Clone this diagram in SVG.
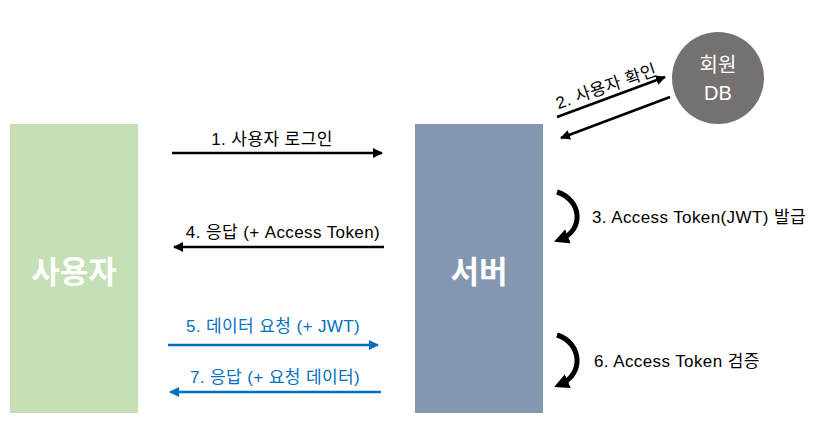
<svg xmlns="http://www.w3.org/2000/svg" width="818" height="425" viewBox="0 0 818 425">
<defs>
<marker id="ah" viewBox="0 0 10 10" refX="9" refY="5" markerWidth="4" markerHeight="4" orient="auto"><path d="M0,0 L10,5 L0,10 z" fill="#000"/></marker>
<marker id="ahb" viewBox="0 0 10 10" refX="9" refY="5" markerWidth="4" markerHeight="4" orient="auto"><path d="M0,0 L10,5 L0,10 z" fill="#0070c0"/></marker>
<marker id="ahc" viewBox="0 0 10 10" refX="5" refY="5" markerWidth="3" markerHeight="3" orient="auto"><path d="M0,0 L10,5 L0,10 z" fill="#000"/></marker>
</defs>
<style>
text{font-family:"Liberation Sans","Noto Sans CJK KR",sans-serif;}
.lbl{font-size:17px;letter-spacing:0.4px;fill:#000;}
.blbl{font-size:17px;letter-spacing:0.4px;fill:#0070c0;}
.big{font-size:31px;font-weight:bold;fill:#fff;}
.db{font-size:20px;fill:#fff;}
.k{stroke:#000;stroke-width:2.5;fill:none;marker-end:url(#ah);}
.b{stroke:#0070c0;stroke-width:2.5;fill:none;marker-end:url(#ahb);}
.c{stroke:#000;stroke-width:5;fill:none;marker-end:url(#ahc);}
</style>
<rect width="818" height="425" fill="#fff"/>
<g id="user"><rect x="10" y="124" width="128" height="289" fill="#c5e0b4"/><text class="big" x="74" y="283" text-anchor="middle">사용자</text></g>
<g id="server"><rect x="415" y="124" width="128" height="289" fill="#8497b0"/><text class="big" x="479" y="283" text-anchor="middle">서버</text></g>
<g id="db"><circle cx="718" cy="78" r="46" fill="#767171"/><text class="db" x="718" y="72" text-anchor="middle">회원</text><text class="db" x="718" y="100" text-anchor="middle">DB</text></g>
<g id="connectors">
<path class="k" d="M172,153 L382,153"/>
<text class="lbl" x="272" y="145" text-anchor="middle">1. 사용자 로그인</text>
<path class="k" d="M557,117 L665,77"/>
<path class="k" d="M670,97 L561,138"/>
<text class="lbl" x="608" y="92" text-anchor="middle" transform="rotate(-19 608 92)">2. 사용자 확인</text>
<path class="c" d="M557,192 C582,200 584,230 561,239"/>
<text class="lbl" x="592" y="223">3. Access Token(JWT) 발급</text>
<path class="k" d="M384,247 L174,247"/>
<text class="lbl" x="283" y="238" text-anchor="middle">4. 응답 (+ Access Token)</text>
<path class="b" d="M168,345 L378,345"/>
<text class="blbl" x="273" y="332" text-anchor="middle">5. 데이터 요청 (+ JWT)</text>
<path class="c" d="M557,335 C582,343 584,374 561,384"/>
<text class="lbl" x="594" y="367">6. Access Token 검증</text>
<path class="b" d="M381,392 L170,392"/>
<text class="blbl" x="275" y="383" text-anchor="middle">7. 응답 (+ 요청 데이터)</text>
</g>
</svg>
